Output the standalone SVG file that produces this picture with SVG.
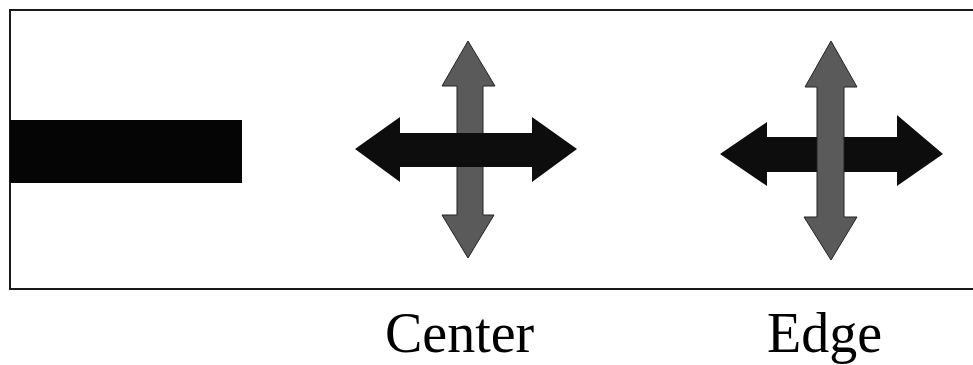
<svg xmlns="http://www.w3.org/2000/svg" width="973" height="365" viewBox="0 0 973 365">
<style>
.frame{fill:none;stroke:#1a1a1a;stroke-width:2}
.h{fill:#0d0d0d}
.v{fill:#5a5a5a;stroke:#222;stroke-width:1}
.lbl{font-family:"Liberation Serif","Times New Roman",serif;font-size:56px;fill:#000}
</style>
<rect width="973" height="365" fill="#fff"/>
<rect class="frame" x="10" y="10" width="975" height="279"/>
<g id="bar">
<rect x="10" y="120" width="232" height="63" fill="#050505"/>
</g>
<g id="center">
<polygon class="v" points="468,41 495,86 483,86 483,215 494,215 468,258 442,215 457,215 457,86 442,86"/>
<polygon class="h" points="355,149 400,117 400,133 532,133 532,117 577,149 532,182 532,167 400,167 400,182"/>
</g>
<g id="edge">
<polygon class="h" points="720,154 767,122 767,137 897,137 897,115 943,154 897,186 897,172 767,172 767,186"/>
<polygon class="v" points="831,41 857,87 844,87 844,217 857,217 831,260 804,217 817,217 817,87 805,87"/>
</g>
<g id="labels">
<text class="lbl" x="385" y="352">Center</text>
<text class="lbl" x="767" y="352">Edge</text>
</g>
</svg>
